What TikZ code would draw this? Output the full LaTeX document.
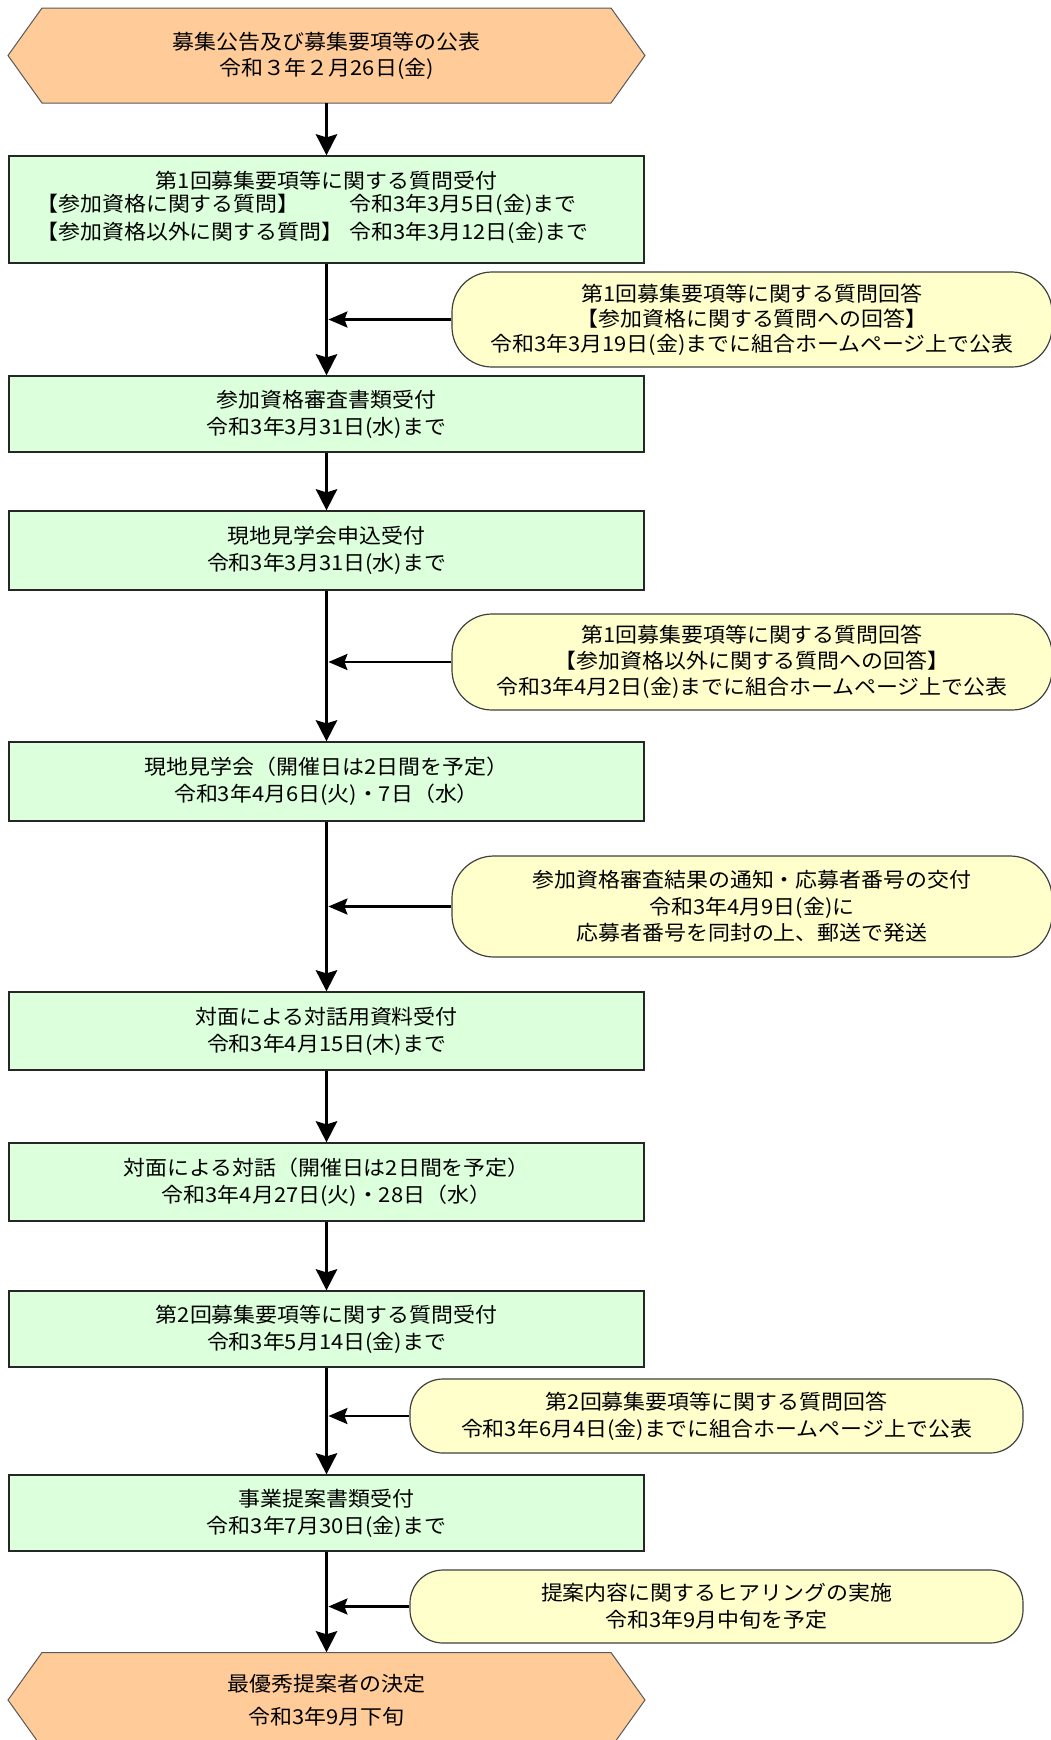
\documentclass[tikz,border=0pt]{standalone}
\usepackage{fontspec}
\setmainfont{Noto Sans CJK JP}[FakeStretch=1.07]
\usetikzlibrary{arrows.meta}
\definecolor{peach}{HTML}{FFCC99}
\definecolor{boxgreen}{HTML}{DCFFDC}
\definecolor{noteyellow}{HTML}{FFFFCC}
\newcommand\jfs[1]{\fontsize{20.5pt}{#1pt}\selectfont}
\begin{document}
\begin{tikzpicture}[x=1pt,y=-1pt,
  stepbox/.style={draw=black!85, line width=1.2pt, fill=boxgreen, minimum width=635pt, inner sep=0pt, align=center, font=\jfs{27}},
  note/.style={draw=black!75, line width=1.2pt, fill=noteyellow, inner sep=0pt, align=center, font=\jfs{26}},
  hexshape/.style={draw=black!65, line width=1pt, fill=peach},
  hextext/.style={minimum width=637pt, minimum height=95pt, inner sep=0pt, align=center},
  flow/.style={line width=3.8pt, -{Stealth[length=21pt,width=21pt,inset=3pt]}},
  feed/.style={line width=2.8pt, -{Stealth[length=19pt,width=16pt,inset=3pt]}, shorten >=1.9pt},
]
\fill[white] (0,0) rectangle (1051,1740);
\useasboundingbox (0,0) rectangle (1051,1740);

% hexagons
\draw[hexshape] (8,55.5) -- (42,8) -- (611,8) -- (645,55.5) -- (611,103) -- (42,103) -- cycle;
\draw[hexshape] (8,1700) -- (42,1652.5) -- (611,1652.5) -- (645,1700) -- (611,1747.5) -- (42,1747.5) -- cycle;

\node[hextext, font=\jfs{26}] (start) at (326.5,55.5) {募集公告及び募集要項等の公表\\令和３年２月26日(金)};

\node[stepbox, minimum height=107pt, font=\jfs{28}] (b1) at (326.5,209.5)
  {第1回募集要項等に関する質問受付\\
   \begin{tabular}{@{}l@{\hspace{6pt}}l@{}}
   【参加資格に関する質問】 & 令和3年3月5日(金)まで\\
   【参加資格以外に関する質問】 & 令和3年3月12日(金)まで
   \end{tabular}\hspace*{28pt}};
\node[stepbox, minimum height=76pt] (b2) at (326.5,414) {参加資格審査書類受付\\令和3年3月31日(水)まで};
\node[stepbox, minimum height=79pt] (b3) at (326.5,550.5) {現地見学会申込受付\\令和3年3月31日(水)まで};
\node[stepbox, minimum height=79pt] (b4) at (326.5,781.5) {現地見学会（開催日は2日間を予定）\\令和3年4月6日(火)・7日（水）};
\node[stepbox, minimum height=78pt] (b5) at (326.5,1031) {対面による対話用資料受付\\令和3年4月15日(木)まで};
\node[stepbox, minimum height=78pt] (b6) at (326.5,1182) {対面による対話（開催日は2日間を予定）\\令和3年4月27日(火)・28日（水）};
\node[stepbox, minimum height=76pt] (b7) at (326.5,1329) {第2回募集要項等に関する質問受付\\令和3年5月14日(金)まで};
\node[stepbox, minimum height=76pt] (b8) at (326.5,1513) {事業提案書類受付\\令和3年7月30日(金)まで};

\node[hextext, font=\jfs{33}] (finish) at (326.5,1700) {最優秀提案者の決定\\令和3年9月下旬};

% callouts
\node[note, minimum width=600pt, minimum height=95pt, rounded corners=40pt, font=\jfs{25}] (c1) at (752,319.5)
  {第1回募集要項等に関する質問回答\\【参加資格に関する質問への回答】\\令和3年3月19日(金)までに組合ホームページ上で公表};
\node[note, minimum width=600pt, minimum height=96pt, rounded corners=40pt] (c2) at (752,662)
  {第1回募集要項等に関する質問回答\\【参加資格以外に関する質問への回答】\\令和3年4月2日(金)までに組合ホームページ上で公表};
\node[note, minimum width=600pt, minimum height=101pt, rounded corners=42pt, font=\jfs{26.5}] (c3) at (752,906.5)
  {参加資格審査結果の通知・応募者番号の交付\\令和3年4月9日(金)に\\応募者番号を同封の上、郵送で発送};
\node[note, minimum width=613pt, minimum height=74pt, rounded corners=33pt, font=\jfs{27}] (c4) at (716.5,1416)
  {第2回募集要項等に関する質問回答\\令和3年6月4日(金)までに組合ホームページ上で公表};
\node[note, minimum width=613pt, minimum height=73pt, rounded corners=33pt, font=\jfs{27}] (c5) at (716.5,1606.5)
  {提案内容に関するヒアリングの実施\\令和3年9月中旬を予定};

% junctions on the main line
\coordinate (j1) at (326.5,319.5);
\coordinate (j2) at (326.5,662);
\coordinate (j3) at (326.5,906.5);
\coordinate (j4) at (326.5,1416);
\coordinate (j5) at (326.5,1606.5);

% main flow
\draw[flow] (start.south) -- (b1.north);
\draw[flow] (b1.south) -- (b2.north);
\draw[flow] (b2.south) -- (b3.north);
\draw[flow] (b3.south) -- (b4.north);
\draw[flow] (b4.south) -- (b5.north);
\draw[flow] (b5.south) -- (b6.north);
\draw[flow] (b6.south) -- (b7.north);
\draw[flow] (b7.south) -- (b8.north);
\draw[flow] (b8.south) -- (finish.north);

% feeds
\draw[feed] (c1.west) -- (j1);
\draw[feed] (c2.west) -- (j2);
\draw[feed] (c3.west) -- (j3);
\draw[feed] (c4.west) -- (j4);
\draw[feed] (c5.west) -- (j5);
\end{tikzpicture}
\end{document}
